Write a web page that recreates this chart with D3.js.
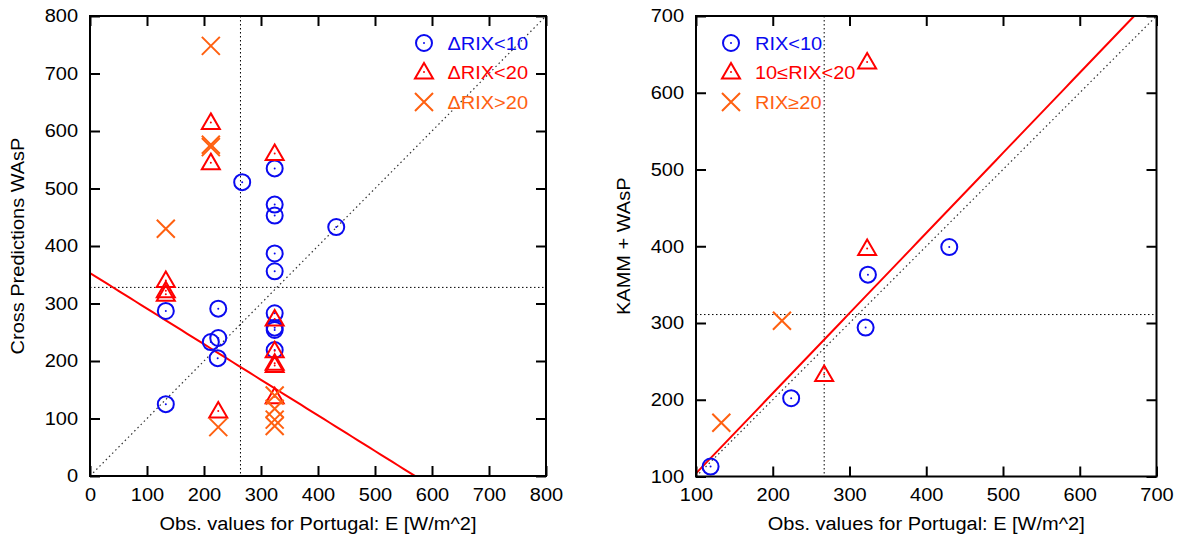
<!DOCTYPE html>
<html>
<head>
<meta charset="utf-8">
<script src="https://cdn.jsdelivr.net/npm/d3@7/dist/d3.min.js"></script>
<style>
  body { margin: 0; background: #fff; }
  svg text { font-family: "Liberation Sans", Arial, sans-serif; }
</style>
</head>
<body>
<svg id="chart" width="1181" height="546"></svg>
<script>
// ---- data ----
const leftTicks = [0, 100, 200, 300, 400, 500, 600, 700, 800];
const rightTicks = [100, 200, 300, 400, 500, 600, 700];

const leftCircles = [[133, 287], [133, 125], [212, 233], [225, 240], [224, 205], [225, 291], [267, 511],
    [324, 535], [324, 472], [324, 453], [324, 387], [324, 356], [324, 283], [324, 258], [324, 254],
    [324, 219], [432, 433]];
const leftTriangles = [[212, 615], [212, 545], [324, 561], [133, 340], [133, 322], [133, 316],
    [324, 273], [324, 218], [324, 196], [324, 192], [324, 138], [225, 113]];
const leftCrosses = [[212, 748], [212, 576], [212, 572], [133, 430], [225, 85],
    [324, 140], [324, 117], [324, 98], [324, 87]];
const leftFit = [353, -0.619];      // intercept, slope
const leftMeans = [264, 328];       // vertical x, horizontal y
const leftLegend = ['\u0394RIX<10', '\u0394RIX<20', '\u0394RIX>20'];

const rightCircles = [[119, 113], [224, 202], [321, 294], [324, 363], [430, 399]];
const rightTriangles = [[267, 233], [323, 397], [323, 640]];
const rightCrosses = [[133, 170], [212, 303]];
const rightFit = [-0.4, 1.044];
const rightMeans = [267, 311];
const rightLegend = ['RIX<10', '10\u2264RIX<20', 'RIX\u226520'];

const BLUE = '#0a0af0', RED = '#ff0000', ORANGE = '#ff6010';
const STRETCH = 1.11;   // the original lettering is a bit wider than Arial

const svg = d3.select('#chart');

function drawPanel(opt) {
    let x = d3.scaleLinear().domain(opt.domain).range([opt.left, opt.right]),
        y = d3.scaleLinear().domain(opt.domain).range([opt.bottom, opt.top]);

    let g = svg.append('g');
    let clipId = 'clip' + opt.id;
    g.append('clipPath').attr('id', clipId).append('rect')
        .attr('x', opt.left).attr('y', opt.top)
        .attr('width', opt.right - opt.left).attr('height', opt.bottom - opt.top);

    let plot = g.append('g').attr('clip-path', `url(#${clipId})`);

    // dotted reference lines
    plot.append('line')
        .attr('x1', x(opt.domain[0])).attr('y1', y(opt.domain[0]))
        .attr('x2', x(opt.domain[1])).attr('y2', y(opt.domain[1]))
        .attr('stroke', '#333').attr('stroke-width', 1.2).attr('stroke-dasharray', '1.5,3');
    plot.append('line')
        .attr('x1', x(opt.means[0])).attr('x2', x(opt.means[0]))
        .attr('y1', opt.top).attr('y2', opt.bottom)
        .attr('stroke', '#000').attr('stroke-width', 1).attr('stroke-dasharray', '1.5,2.5');
    plot.append('line')
        .attr('x1', opt.left).attr('x2', opt.right)
        .attr('y1', y(opt.means[1])).attr('y2', y(opt.means[1]))
        .attr('stroke', '#000').attr('stroke-width', 1).attr('stroke-dasharray', '1.5,2.5');

    // fit line
    let fx = d3.range(opt.domain[0], opt.domain[1] + 1, 10);
    plot.append('path')
        .datum(fx)
        .attr('fill', 'none').attr('stroke', RED).attr('stroke-width', 2)
        .attr('d', d3.line().x((v) => x(v)).y((v) => y(opt.fit[0] + opt.fit[1] * v)));

    // markers
    addCircles(plot, opt.circles.map((d) => [x(d[0]), y(d[1])]));
    addTriangles(plot, opt.triangles.map((d) => [x(d[0]), y(d[1])]));
    addCrosses(plot, opt.crosses.map((d) => [x(d[0]), y(d[1])]));

    // axes - inward ticks, mirrored
    let tl = 10;
    g.append('g').attr('transform', `translate(0,${opt.bottom})`)
        .call(d3.axisBottom(x).tickValues(opt.ticks).tickSize(-tl).tickPadding(12));
    g.append('g').attr('transform', `translate(0,${opt.top})`)
        .call(d3.axisTop(x).tickValues(opt.ticks).tickSize(-tl).tickFormat(''));
    g.append('g').attr('transform', `translate(${opt.left},0)`)
        .call(d3.axisLeft(y).tickValues(opt.ticks).tickSize(-tl).tickPadding(12));
    g.append('g').attr('transform', `translate(${opt.right},0)`)
        .call(d3.axisRight(y).tickValues(opt.ticks).tickSize(-tl).tickFormat(''));
    g.selectAll('.domain').remove();
    g.selectAll('.tick line').attr('stroke', '#000').attr('stroke-width', 2);
    g.selectAll('.tick text').attr('font-size', 18).attr('fill', '#000')
        .attr('font-family', '"Liberation Sans", Arial, sans-serif');

    g.append('rect')
        .attr('x', opt.left).attr('y', opt.top)
        .attr('width', opt.right - opt.left).attr('height', opt.bottom - opt.top)
        .attr('fill', 'none').attr('stroke', '#000').attr('stroke-width', 2);

    // titles
    g.append('text')
        .attr('x', (opt.left + opt.right) / 2).attr('y', 530)
        .attr('text-anchor', 'middle').attr('font-size', 18)
        .text('Obs. values for Portugal: E [W/m^2]');
    g.append('text')
        .attr('transform', `translate(${opt.ytitleX},${(opt.top + opt.bottom) / 2}) rotate(-90)`)
        .attr('text-anchor', 'middle').attr('font-size', 18)
        .text(opt.ytitle);

    // legend
    let colors = [BLUE, RED, ORANGE],
        rows = [43, 72, 102];
    addCircles(g, [[opt.legendX, rows[0]]]);
    addTriangles(g, [[opt.legendX, rows[1]]]);
    addCrosses(g, [[opt.legendX, rows[2]]]);
    g.selectAll('.legend-label').data(opt.legend).enter().append('text')
        .attr('class', 'legend-label')
        .attr('x', opt.legendTextX).attr('y', (d, i) => rows[i] + 7)
        .attr('text-anchor', opt.legendAnchor)
        .attr('font-size', 18).attr('fill', (d, i) => colors[i])
        .text((d) => d);

    // widen all lettering a little
    g.selectAll('text').each(function () {
        let w = this.getComputedTextLength();
        if (w > 0) d3.select(this).attr('textLength', w * STRETCH).attr('lengthAdjust', 'spacingAndGlyphs');
    });
}

function addCircles(sel, pts) {
    let m = sel.append('g').selectAll('g').data(pts).enter().append('g')
        .attr('transform', (p) => `translate(${p[0]},${p[1]})`);
    m.append('circle').attr('r', 8).attr('fill', 'none').attr('stroke', BLUE).attr('stroke-width', 2);
    m.append('circle').attr('r', 1).attr('fill', BLUE);
}

function addTriangles(sel, pts) {
    let m = sel.append('g').selectAll('g').data(pts).enter().append('g')
        .attr('transform', (p) => `translate(${p[0]},${p[1]})`);
    m.append('path').attr('d', 'M0,-9L9,6.5L-9,6.5Z')
        .attr('fill', 'none').attr('stroke', RED).attr('stroke-width', 2).attr('stroke-linejoin', 'miter');
    m.append('circle').attr('r', 1).attr('fill', RED);
}

function addCrosses(sel, pts) {
    sel.append('g').selectAll('path').data(pts).enter().append('path')
        .attr('transform', (p) => `translate(${p[0]},${p[1]})`)
        .attr('d', 'M-9,-9L9,9M-9,9L9,-9')
        .attr('stroke', ORANGE).attr('stroke-width', 2);
}

drawPanel({
    id: 'L', domain: [0, 800], ticks: leftTicks,
    left: 90, right: 546, top: 16, bottom: 476,
    circles: leftCircles, triangles: leftTriangles, crosses: leftCrosses,
    fit: leftFit, means: leftMeans,
    ytitle: 'Cross Predictions WAsP', ytitleX: 24,
    legend: leftLegend, legendX: 424, legendTextX: 528, legendAnchor: 'end'
});

drawPanel({
    id: 'R', domain: [100, 700], ticks: rightTicks,
    left: 696, right: 1156.5, top: 16, bottom: 476.5,
    circles: rightCircles, triangles: rightTriangles, crosses: rightCrosses,
    fit: rightFit, means: rightMeans,
    ytitle: 'KAMM + WAsP', ytitleX: 630,
    legend: rightLegend, legendX: 731, legendTextX: 755, legendAnchor: 'start'
});
</script>
</body>
</html>
